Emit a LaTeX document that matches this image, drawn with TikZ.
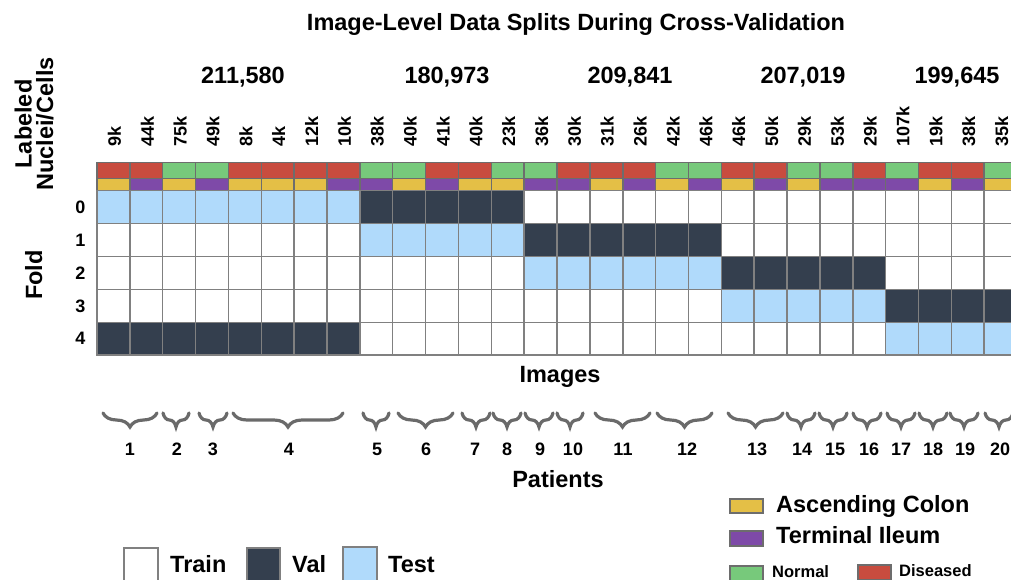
\documentclass[tikz,border=0pt]{standalone}
\usepackage{fontspec}
\setmainfont{Liberation Sans}
\usetikzlibrary{decorations.pathreplacing}
\definecolor{dred}{HTML}{C84C3F}
\definecolor{ngreen}{HTML}{77C97B}
\definecolor{acyel}{HTML}{E4BF46}
\definecolor{tipur}{HTML}{7E4AA8}
\definecolor{valc}{HTML}{343F4E}
\definecolor{testc}{HTML}{B0DAFB}
\definecolor{gridc}{HTML}{808080}
\definecolor{bracec}{HTML}{6A6A6A}
\tikzset{
  big/.style={font=\fontsize{23.5}{25}\selectfont\bfseries, inner sep=0pt},
  small/.style={font=\fontsize{18}{20}\selectfont\bfseries, inner sep=0pt},
  tiny/.style={font=\fontsize{16.5}{18}\selectfont\bfseries, inner sep=0pt},
  cell/.style={draw=gridc, line width=1.5pt},
  ccell/.style={draw=gridc!85!black, line width=1.5pt},
  pbrace/.style={draw=bracec, line width=3.2pt, line cap=round, decorate,
    decoration={brace, mirror, amplitude=14pt}},
}
\begin{document}
\begin{tikzpicture}[x=1pt,y=-1pt]
\clip (0,0) rectangle (1011,579);
\fill[white] (0,0) rectangle (1011,579);

% title
\node[big, anchor=base] (title) at (576,30) {Image-Level Data Splits During Cross-Validation};

% group totals
\node[big, anchor=base] (tot1) at (243,83) {211,580};
\node[big, anchor=base] (tot2) at (447,83) {180,973};
\node[big, anchor=base] (tot3) at (630,83) {209,841};
\node[big, anchor=base] (tot4) at (803,83) {207,019};
\node[big, anchor=base] (tot5) at (957,83) {199,645};

% y labels
\node[rotate=90, align=center, inner sep=0pt, font=\fontsize{23.5}{21.5}\selectfont\bfseries] (ylab) at (34,124) {Labeled\\Nuclei/Cells};
\node[big, rotate=90, anchor=base] (foldlab) at (42,275) {Fold};

% column labels
\foreach \t [count=\i from 0] in {9k,44k,75k,49k,8k,4k,12k,10k,38k,40k,41k,40k,23k,36k,30k,31k,26k,42k,46k,46k,50k,29k,53k,29k,107k,19k,38k,35k}
  \node[small, rotate=90, anchor=west] (cl\i) at ({97+32.86*\i+17.4},147) {\t};

% disease row
\foreach \col [count=\i from 0] in {dred,dred,ngreen,ngreen,dred,dred,dred,dred,ngreen,ngreen,dred,dred,ngreen,ngreen,dred,dred,dred,ngreen,ngreen,dred,dred,ngreen,ngreen,dred,ngreen,dred,dred,ngreen}
  \draw[ccell, fill=\col] ({97+32.86*\i},162.7) rectangle ++(32.86,15.6);

% tissue row
\foreach \col [count=\i from 0] in {acyel,tipur,acyel,tipur,acyel,acyel,acyel,tipur,tipur,acyel,tipur,acyel,acyel,tipur,tipur,acyel,tipur,acyel,tipur,acyel,tipur,acyel,tipur,tipur,tipur,acyel,tipur,acyel}
  \draw[ccell, fill=\col] ({97+32.86*\i},178.3) rectangle ++(32.86,12.4);

% fold rows
\foreach \r/\ta/\tb/\va/\vb in {0/0/8/8/13, 1/8/13/13/19, 2/13/19/19/24, 3/19/24/24/28, 4/24/28/0/8}{
  \foreach \c in {0,...,27}{
    \def\fc{white}
    \ifnum\c<\tb\relax \ifnum\c<\ta\relax\else\def\fc{testc}\fi\fi
    \ifnum\c<\vb\relax \ifnum\c<\va\relax\else\def\fc{valc}\fi\fi
    \draw[cell, fill=\fc] ({97+32.86*\c},{190.7+32.9*\r}) rectangle ++(32.86,32.9);
  }
  \node[small] (fn\r) at (80.5,{207.15+32.9*\r}) {\r};
}

\node[big, anchor=base] (images) at (560,382) {Images};

% patient braces
\foreach \a/\b in {103/157, 163/189, 199/227, 233/343, 363/389, 398/453, 462/490, 493/521, 525/553, 557/583, 595/650, 657/712, 728/783, 787/815, 819/847, 853/881, 887/915, 919/947, 950/978, 985/1013}
  \draw[pbrace] (\a,413) -- (\b,413);
\foreach \n/\x in {1/130, 2/177, 3/213, 4/289, 5/377, 6/426, 7/475, 8/507, 9/540, 10/573, 11/623, 12/687, 13/757, 14/802, 15/835, 16/869, 17/901, 18/933, 19/965, 20/1000}
  \node[small, anchor=base] (p\n) at (\x,455) {\n};
\node[big, anchor=base] (patients) at (558,487) {Patients};

% legend: split
\draw[cell, fill=white] (124,548) rectangle (158,582);
\node[big, anchor=base west] (ltrain) at (170,572) {Train};
\draw[cell, fill=valc] (247,548) rectangle (280,582);
\node[big, anchor=base west] (lval) at (292,572) {Val};
\draw[cell, fill=testc] (343,547) rectangle (377,581);
\node[big, anchor=base west] (ltest) at (388,572) {Test};

% legend: tissue / disease
\draw[ccell, fill=acyel] (730,499) rectangle (763,513);
\node[big, anchor=base west] (lac) at (776,512) {Ascending Colon};
\draw[ccell, fill=tipur] (730,531) rectangle (763,546);
\node[big, anchor=base west] (lti) at (776,543) {Terminal Ileum};
\draw[ccell, fill=ngreen] (730,566) rectangle (763,581);
\node[tiny, anchor=base west] (lnorm) at (772,577.5) {Normal};
\draw[ccell, fill=dred] (858,565) rectangle (891,580);
\node[tiny, anchor=base west] (ldis) at (899,576.5) {Diseased};
\end{tikzpicture}
\end{document}
